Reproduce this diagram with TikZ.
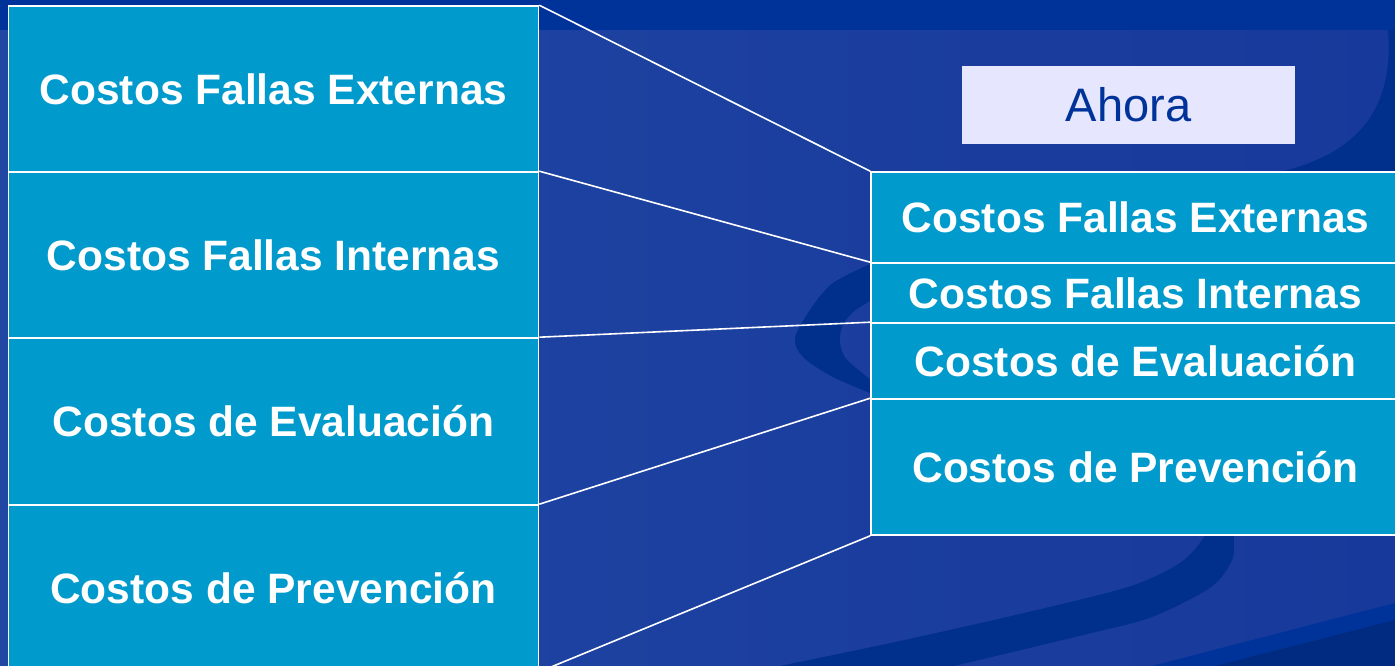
\documentclass[tikz,border=0pt]{standalone}
\usepackage{fontspec}
\setmainfont{Liberation Sans}
\definecolor{topblue}{HTML}{003399}
\definecolor{bgleft}{HTML}{2147A3}
\definecolor{bgright}{HTML}{17399B}
\definecolor{swoosh}{HTML}{002F8C}
\definecolor{band}{HTML}{002B80}
\definecolor{boxblue}{HTML}{009ACD}
\definecolor{lavender}{HTML}{E6E6FF}
\begin{document}
\begin{tikzpicture}[x=1pt,y=-1pt,
	cbox/.style={draw=white,line width=1.6pt,fill=boxblue,text=white,inner sep=0pt,
		font=\bfseries\fontsize{42.5}{50}\selectfont,text height=30.5pt,text depth=0pt},
	lbox/.style={cbox,minimum width=530pt},
	rbox/.style={cbox,minimum width=529pt},
	link/.style={draw=white,line width=1.6pt}]
	\useasboundingbox (0,0) rectangle (1395,666); \clip (0,0) rectangle (1395,666);
	\shade[left color=bgleft,right color=bgright] (0,0) rectangle (1395,666);
	\fill[topblue] (0,0) rectangle (1395,30);
	\fill[swoosh] (1388,30) .. controls (1393,95) and (1372,150) .. (1280,172) -- (1395,172) -- (1395,30) -- cycle;
	\fill[swoosh] plot[smooth] coordinates {(875,262) (833,283) (810,310) (795,338) (803,357) (833,377) (875,395)}
		-- plot[smooth] coordinates {(875,383) (847,360) (840,343) (842,327) (853,312) (875,298)} -- cycle;
	\fill[swoosh] plot[smooth] coordinates {(780,666) (900,641) (1024,613) (1128,587) (1180,563) (1204,537) (1206,520)}
		-- plot[smooth] coordinates {(1236,520) (1234,537) (1232,560) (1211,587) (1152,617) (1083,635) (954,666)} -- cycle;
	\fill[topblue] (1152,666) -- (1395,603) -- (1395,666) -- cycle;
	\fill[band] (1215,666) -- (1395,620) -- (1395,666) -- cycle;
	\node[lbox,minimum height=166pt] (lfe) at (273.5,89) {Costos Fallas Externas};
	\node[lbox,minimum height=166pt] (lfi) at (273.5,255) {Costos Fallas Internas};
	\node[lbox,minimum height=167pt] (lev) at (273.5,421.5) {Costos de Evaluación};
	\node[lbox,minimum height=166pt] (lpr) at (273.5,588) {Costos de Prevención};
	\node[rbox,minimum height=91pt] (rfe) at (1135.5,217.5) {Costos Fallas Externas};
	\node[rbox,minimum height=60pt] (rfi) at (1135.5,293) {Costos Fallas Internas};
	\node[rbox,minimum height=76pt] (rev) at (1135.5,361) {Costos de Evaluación};
	\node[rbox,minimum height=136pt] (rpr) at (1135.5,467) {Costos de Prevención};
	\node[fill=lavender,text=topblue,minimum width=333pt,minimum height=78pt,inner sep=0pt,
		font=\fontsize{47}{56}\selectfont,text height=34pt,text depth=0pt] (ahora) at (1128.5,105) {Ahora};
	\draw[link] (lfe.north east) -- (rfe.north west);
	\draw[link] (lfi.north east) -- (rfi.north west);
	\draw[link] (lev.north east) -- (rev.north west);
	\draw[link] (lpr.north east) -- (rpr.north west);
	\draw[link] (lpr.south east) -- (rpr.south west);
\end{tikzpicture}
\end{document}
